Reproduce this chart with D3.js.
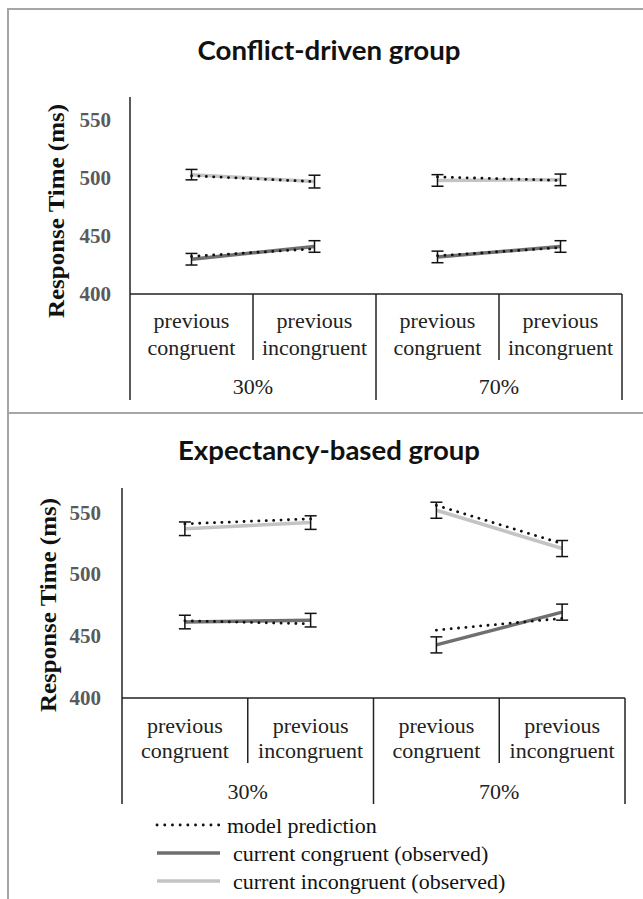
<!DOCTYPE html>
<html>
<head>
<meta charset="utf-8">
<script src="https://cdn.jsdelivr.net/npm/d3@7"></script>
<style>
html,body{margin:0;padding:0;background:#fff;}
svg{display:block;}
.serif{font-family:"Liberation Serif","DejaVu Serif",serif;}
.sans{font-family:Lato,"Open Sans",sans-serif;}
</style>
</head>
<body>
<svg id="chart" width="643" height="899"></svg>
<script>
// ---------- data ----------
const groups = ["30%", "70%"];
const conditions = ["previous congruent", "previous incongruent"];
const yTicks = [400, 450, 500, 550];
const panelTitles = ["Conflict-driven group", "Expectancy-based group"];
const legendLabels = ["model prediction", "current congruent (observed)", "current incongruent (observed)"];

// order: 30% prev-cong, 30% prev-incong, 70% prev-cong, 70% prev-incong
const conflictCongObs = [430, 441, 432, 441];
const conflictCongErr = [5, 5, 5, 5];
const conflictIncongObs = [503, 497, 498, 498.5];
const conflictIncongErr = [4.5, 5.5, 5, 5];
const conflictCongPred = [432.5, 439, 433, 440];
const conflictIncongPred = [502, 497, 501, 498];

const expectCongObs = [461.5, 463, 443, 469.5];
const expectCongErr = [5.5, 5.5, 6.5, 6.5];
const expectIncongObs = [537, 542, 552, 521];
const expectIncongErr = [5.5, 5.5, 6.5, 6.5];
const expectCongPred = [462.5, 460, 455, 464.5];
const expectIncongPred = [541, 545, 556, 525];

// ---------- drawing ----------
const svg = d3.select("#chart");
const frameColor = "#a6a6a6";
const congColor = "#6f6f6f";
const incongColor = "#c4c4c4";

// frame
svg.append("line").attr("x1", 8).attr("x2", 643).attr("y1", 9).attr("y2", 9)
  .attr("stroke", frameColor).attr("stroke-width", 2);
svg.append("line").attr("x1", 8).attr("x2", 8).attr("y1", 8).attr("y2", 899)
  .attr("stroke", frameColor).attr("stroke-width", 2);
svg.append("line").attr("x1", 8).attr("x2", 643).attr("y1", 413).attr("y2", 413)
  .attr("stroke", frameColor).attr("stroke-width", 2);

const keys = [];
groups.forEach(g => conditions.forEach(c => keys.push(g + "|" + c)));

const panels = [
  {title: panelTitles[0], titleY: 49, titleLen: 263, x0: 130, x1: 622, yTop: 97, yBase: 294, subBottom: 360, grpBottom: 400,
   row1: 320, row2: 347, rowPct: 386, tickX: 111, yTitleX: 56, yTitleY: 211,
   congObs: conflictCongObs, congErr: conflictCongErr, incongObs: conflictIncongObs, incongErr: conflictIncongErr,
   congPred: conflictCongPred, incongPred: conflictIncongPred},
  {title: panelTitles[1], titleY: 449, titleLen: 302, x0: 122, x1: 625, yTop: 488, yBase: 698, subBottom: 763, grpBottom: 804,
   row1: 725, row2: 750, rowPct: 791, tickX: 101, yTitleX: 48, yTitleY: 605,
   congObs: expectCongObs, congErr: expectCongErr, incongObs: expectIncongObs, incongErr: expectIncongErr,
   congPred: expectCongPred, incongPred: expectIncongPred}
];

panels.forEach(p => {
  const g = svg.append("g");
  const x = d3.scaleBand().domain(keys).range([p.x0, p.x1]);
  const xg = d3.scaleBand().domain(groups).range([p.x0, p.x1]);
  const y = d3.scaleLinear().domain([400, 570]).range([p.yBase, p.yTop]);

  // title
  g.append("text").attr("class", "sans").attr("x", 329).attr("y", p.titleY).attr("text-anchor", "middle")
    .attr("dominant-baseline", "central")
    .attr("font-weight", "bold")
    .attr("font-size", 27).attr("fill", "#111")
    .attr("textLength", p.titleLen).attr("lengthAdjust", "spacingAndGlyphs")
    .text(p.title);

  // y axis line (extends through category area)
  g.append("line").attr("x1", p.x0).attr("x2", p.x0).attr("y1", p.yTop).attr("y2", p.grpBottom)
    .attr("stroke", "#222").attr("stroke-width", 1.5);
  // baseline
  g.append("line").attr("x1", p.x0).attr("x2", p.x1).attr("y1", y(400)).attr("y2", y(400))
    .attr("stroke", "#222").attr("stroke-width", 1.5);
  // sub-dividers
  keys.forEach((k, i) => {
    if (i === 0) return;
    const isGroupEdge = (i % conditions.length) === 0;
    g.append("line").attr("x1", x(k)).attr("x2", x(k)).attr("y1", y(400))
      .attr("y2", isGroupEdge ? p.grpBottom : p.subBottom)
      .attr("stroke", "#222").attr("stroke-width", 1.5);
  });
  g.append("line").attr("x1", p.x1).attr("x2", p.x1).attr("y1", y(400)).attr("y2", p.grpBottom)
    .attr("stroke", "#222").attr("stroke-width", 1.5);

  // y tick labels
  yTicks.forEach(t => {
    g.append("text").attr("class", "serif").attr("x", p.tickX).attr("y", y(t)).attr("text-anchor", "end")
      .attr("dominant-baseline", "central")
      .attr("font-weight", "bold")
      .attr("font-size", 21).attr("fill", "#5a5a5a")
      .text(t);
  });

  // y title
  g.append("text").attr("class", "serif").attr("transform", `translate(${p.yTitleX},${p.yTitleY}) rotate(-90)`)
    .attr("text-anchor", "middle").attr("dominant-baseline", "central")
    .attr("font-weight", "bold")
    .attr("font-size", 23).attr("fill", "#111")
    .attr("textLength", 214).attr("lengthAdjust", "spacingAndGlyphs")
    .text("Response Time (ms)");

  // category labels
  keys.forEach(k => {
    const cond = k.split("|")[1];
    const words = cond.split(" ");
    const cx = x(k) + x.bandwidth() / 2;
    [p.row1, p.row2].forEach((ry, wi) => {
      g.append("text").attr("class", "serif").attr("x", cx).attr("y", ry).attr("text-anchor", "middle")
        .attr("dominant-baseline", "central")
        .attr("font-size", 22).attr("fill", "#222")
        .text(words[wi]);
    });
  });
  groups.forEach(gr => {
    g.append("text").attr("class", "serif").attr("x", xg(gr) + xg.bandwidth() / 2).attr("y", p.rowPct)
      .attr("text-anchor", "middle")
      .attr("dominant-baseline", "central")
      .attr("font-size", 22).attr("fill", "#222")
      .text(gr);
  });

  const cxOf = i => x(keys[i]) + x.bandwidth() / 2;
  const line = d3.line().x(d => cxOf(d.i)).y(d => y(d.v));
  const pairs = groups.map((gr, gi) => [gi * 2, gi * 2 + 1]);

  function drawSeries(vals, color, width, dash) {
    pairs.forEach(pr => {
      g.append("path").datum(pr.map(i => ({i, v: vals[i]})))
        .attr("d", line).attr("fill", "none").attr("stroke", color)
        .attr("stroke-width", width)
        .attr("stroke-dasharray", dash || null)
        .attr("stroke-linecap", dash ? "round" : "butt");
    });
  }
  function drawErr(vals, errs) {
    vals.forEach((v, i) => {
      const cx = cxOf(i);
      const lo = y(v - errs[i]), hi = y(v + errs[i]);
      g.append("line").attr("x1", cx).attr("x2", cx).attr("y1", lo).attr("y2", hi)
        .attr("stroke", "#111").attr("stroke-width", 1.5);
      [lo, hi].forEach(yy => g.append("line").attr("x1", cx - 6).attr("x2", cx + 6)
        .attr("y1", yy).attr("y2", yy).attr("stroke", "#111").attr("stroke-width", 1.5));
    });
  }

  drawSeries(p.incongObs, incongColor, 3.5);
  drawSeries(p.congObs, congColor, 3.5);
  drawErr(p.incongObs, p.incongErr);
  drawErr(p.congObs, p.congErr);
  drawSeries(p.incongPred, "#111", 2.8, "0.1 7.3");
  drawSeries(p.congPred, "#111", 2.8, "0.1 7.3");
});

// legend
const legendY = [825, 853, 881];
const legendTextX = [227, 233, 233];
const legendStyles = [
  {color: "#111", width: 2.8, dash: "0.1 7.6"},
  {color: congColor, width: 3.5, dash: null},
  {color: incongColor, width: 3.5, dash: null}
];
legendLabels.forEach((lab, i) => {
  const s = legendStyles[i];
  svg.append("line").attr("x1", 157).attr("x2", 220).attr("y1", legendY[i]).attr("y2", legendY[i])
    .attr("stroke", s.color).attr("stroke-width", s.width)
    .attr("stroke-dasharray", s.dash).attr("stroke-linecap", s.dash ? "round" : "butt");
  svg.append("text").attr("class", "serif").attr("x", legendTextX[i]).attr("y", legendY[i])
    .attr("dominant-baseline", "central")
    .attr("font-size", 22).attr("fill", "#111")
    .text(lab);
});
</script>
</body>
</html>
